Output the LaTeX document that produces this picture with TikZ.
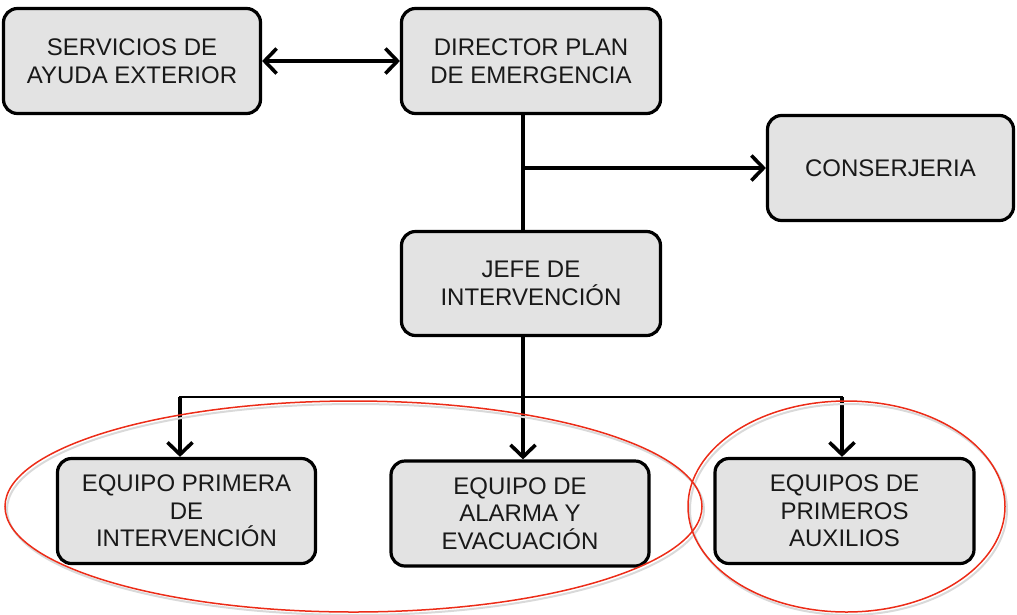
\documentclass[tikz,border=0pt]{standalone}
\usepackage{fontspec}
\setmainfont{Liberation Sans}
\usetikzlibrary{arrows.meta}
\definecolor{boxgray}{RGB}{227,227,227}
\definecolor{ellred}{RGB}{236,44,24}
\begin{document}
\begin{tikzpicture}[x=1pt,y=-1pt,
  box/.style={draw=black, line width=3.2pt, rounded corners=14pt, fill=boxgray,
    align=center, inner sep=0pt, text=black!90,
    font=\fontsize{24}{27.5}\selectfont},
  conn/.style={draw=black, line width=3.2pt},
  barb/.tip={Straight Barb[length=12pt,width=25pt,line width=3.6pt]},
  arr/.style={conn, -barb},
  dblarr/.style={conn, barb-barb},
  grp/.style={draw=ellred, line width=1.5pt},
  grpshadow/.style={draw=black!15, line width=2pt}]
\useasboundingbox (0,0) rectangle (1017,614);

\node[box, minimum width=257pt, minimum height=105pt] (serv) at (132,61) {SERVICIOS DE\\AYUDA EXTERIOR};
\node[box, minimum width=259pt, minimum height=105pt] (dir) at (531,61) {DIRECTOR PLAN\\DE EMERGENCIA};
\node[box, minimum width=246pt, minimum height=105pt] (cons) at (890.5,168) {CONSERJERIA};
\node[box, minimum width=259pt, minimum height=104pt] (jefe) at (531,283.5) {JEFE DE\\INTERVENCIÓN};
\node[box, minimum width=258pt, minimum height=105pt] (eq1) at (186.5,511) {EQUIPO PRIMERA\\DE\\INTERVENCIÓN};
\node[box, minimum width=258pt, minimum height=105pt] (eq2) at (520,513.5) {EQUIPO DE\\ALARMA Y\\EVACUACIÓN};
\node[box, minimum width=259pt, minimum height=105pt] (eq3) at (844.5,511) {EQUIPOS DE\\PRIMEROS\\AUXILIOS};

\coordinate (t1) at (523,168);
\coordinate (b) at (523,397);
\coordinate (bl) at (180,397);
\coordinate (br) at (842,397);

\draw[dblarr] (serv.east) -- (dir.west);
\draw[conn] (dir.south -| t1) -- (jefe.north -| t1);
\draw[arr] (t1) -- (t1 -| cons.west);
\draw[conn] (jefe.south -| b) -- (b);
\draw[conn, line width=2.4pt, line cap=rect] (bl) -- (br);
\draw[arr] (bl) -- (bl |- eq1.north);
\draw[arr] (b) -- (b |- eq2.north);
\draw[arr] (br) -- (br |- eq3.north);

\draw[grpshadow] (355.5,509.5) ellipse [x radius=348.5pt, y radius=105.5pt];
\draw[grpshadow] (848.5,509.5) ellipse [x radius=158.5pt, y radius=105.5pt];
\draw[grp] (353.5,506.5) ellipse [x radius=348.5pt, y radius=105.5pt];
\draw[grp] (846.5,506.5) ellipse [x radius=158.5pt, y radius=105.5pt];
\end{tikzpicture}
\end{document}
